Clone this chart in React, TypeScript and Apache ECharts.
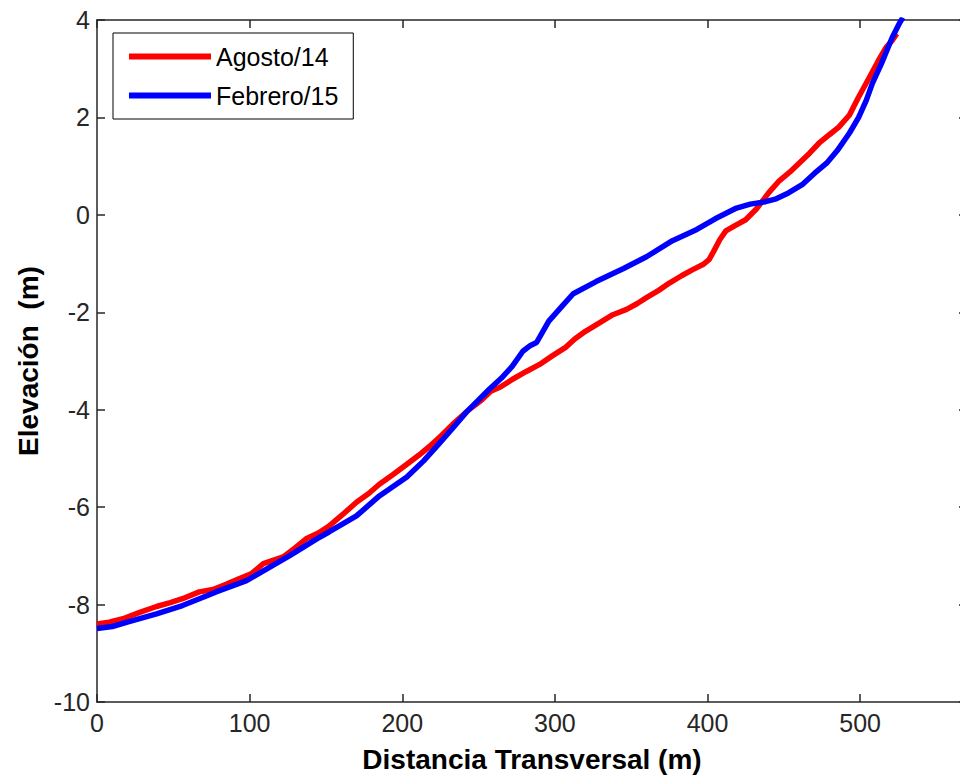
import React, { useEffect, useRef } from "react";
import * as echarts from "echarts";

// Agosto/14 profile (distance m, elevation m)
const agostoX = [0, 8, 17, 28, 39, 48, 56, 67, 76, 85, 93, 101, 109, 122, 130, 137, 145, 152, 161, 170, 178, 185, 194, 203, 211, 218, 226, 233, 244, 252, 258, 264, 272, 281, 290, 298, 307, 313, 320, 330, 338, 347, 354, 360, 368, 375, 383, 390, 397, 401, 404, 408, 412, 418, 425, 432, 440, 447, 454, 460, 467, 473, 480, 486, 493, 499, 506, 512, 517, 521, 524];
const agostoY = [-8.4, -8.36, -8.29, -8.16, -8.04, -7.96, -7.88, -7.74, -7.69, -7.58, -7.47, -7.37, -7.16, -7.02, -6.83, -6.65, -6.53, -6.39, -6.15, -5.9, -5.72, -5.53, -5.33, -5.12, -4.93, -4.75, -4.52, -4.3, -3.99, -3.8, -3.62, -3.54, -3.38, -3.22, -3.07, -2.9, -2.72, -2.55, -2.39, -2.2, -2.05, -1.94, -1.82, -1.7, -1.55, -1.4, -1.25, -1.13, -1.02, -0.92, -0.75, -0.51, -0.33, -0.22, -0.1, 0.12, 0.45, 0.7, 0.88, 1.06, 1.27, 1.47, 1.65, 1.8, 2.05, 2.42, 2.82, 3.17, 3.44, 3.58, 3.72];

// Febrero/15 profile
const febreroX = [0, 10, 21, 39, 56, 72, 78, 98, 111, 126, 144, 152, 170, 185, 203, 214, 224, 233, 242, 250, 257, 265, 272, 279, 284, 288, 296, 304, 312, 327, 345, 360, 377, 393, 405, 419, 428, 438, 445, 453, 462, 470, 478, 485, 493, 499, 504, 508, 514, 521, 526, 528];
const febreroY = [-8.49, -8.45, -8.35, -8.19, -8.02, -7.82, -7.74, -7.51, -7.27, -7.0, -6.65, -6.51, -6.18, -5.77, -5.38, -5.05, -4.7, -4.38, -4.05, -3.8, -3.58, -3.35, -3.11, -2.8, -2.68, -2.62, -2.18, -1.9, -1.62, -1.37, -1.1, -0.86, -0.53, -0.3, -0.08, 0.14, 0.22, 0.27, 0.33, 0.45, 0.62, 0.85, 1.06, 1.32, 1.68, 2.0, 2.35, 2.7, 3.11, 3.64, 3.95, 4.05];

const seriesNames = ["Agosto/14", "Febrero/15"];
const xTitle = "Distancia Transversal (m)";
const yTitle = "Elevación  (m)";

const zip = (xs: number[], ys: number[]) => xs.map((x, i) => [x, ys[i]]);

export default function App() {
  const ref = useRef<HTMLDivElement>(null);
  useEffect(() => {
    if (!ref.current) return;
    const chart = echarts.init(ref.current, null, { renderer: "svg" });
    const font = "Arial, 'Liberation Sans', Helvetica, sans-serif";
    const axisLine = { show: true, onZero: false, lineStyle: { color: "#262626", width: 1.5 } };
    const tick = { show: true, inside: true, length: 8, lineStyle: { color: "#262626", width: 1.5 } };
    const labelStyle = { color: "#262626", fontSize: 25, fontFamily: font };
    chart.setOption({
      animation: false,
      backgroundColor: "#ffffff",
      grid: { left: 97, right: 23, top: 20, bottom: 74, containLabel: false },
      legend: {
        orient: "vertical",
        left: 113,
        top: 33,
        padding: [11, 15, 11, 16],
        itemGap: 14,
        itemWidth: 82,
        itemHeight: 6,
        borderColor: "#000",
        borderWidth: 1,
        backgroundColor: "#fff",
        data: seriesNames.map((n) => ({ name: n, icon: "rect" })),
        textStyle: { fontSize: 25, fontFamily: font, color: "#000", lineHeight: 24 },
      },
      xAxis: [
        {
          type: "value",
          min: 0,
          max: 570,
          interval: 100,
          position: "bottom",
          name: xTitle,
          nameLocation: "middle",
          nameGap: 43,
          nameTextStyle: { fontSize: 28, fontWeight: "bold", fontFamily: font, color: "#000" },
          axisLine,
          axisTick: tick,
          splitLine: { show: false },
          axisLabel: {
            ...labelStyle,
            margin: 8,
            formatter: (v: number) => (v % 100 === 0 ? String(v) : ""),
          },
        },
        {
          type: "value",
          min: 0,
          max: 570,
          interval: 100,
          position: "top",
          axisLine,
          axisTick: tick,
          splitLine: { show: false },
          axisLabel: { show: false },
        },
      ],
      yAxis: [
        {
          type: "value",
          min: -10,
          max: 4,
          interval: 2,
          position: "left",
          name: yTitle,
          nameLocation: "middle",
          nameGap: 55,
          nameTextStyle: { fontSize: 28, fontWeight: "bold", fontFamily: font, color: "#000" },
          axisLine,
          axisTick: tick,
          splitLine: { show: false },
          axisLabel: { ...labelStyle, margin: 7 },
        },
        {
          type: "value",
          min: -10,
          max: 4,
          interval: 2,
          position: "right",
          axisLine,
          axisTick: tick,
          splitLine: { show: false },
          axisLabel: { show: false },
        },
      ],
      series: [
        {
          name: seriesNames[0],
          type: "line",
          data: zip(agostoX, agostoY),
          showSymbol: false,
          symbol: "none",
          color: "#ff0000",
          itemStyle: { color: "#ff0000" },
          lineStyle: { color: "#ff0000", width: 5.5 },
        },
        {
          name: seriesNames[1],
          type: "line",
          data: zip(febreroX, febreroY),
          showSymbol: false,
          symbol: "none",
          color: "#0000ff",
          itemStyle: { color: "#0000ff" },
          lineStyle: { color: "#0000ff", width: 5.5 },
        },
      ],
    });
    return () => chart.dispose();
  }, []);
  return (
    <div style={{ position: "fixed", left: 0, top: 0, width: 960, height: 778, overflow: "hidden", background: "#fff" }}>
      <div ref={ref} style={{ width: 990, height: 778 }} />
    </div>
  );
}
